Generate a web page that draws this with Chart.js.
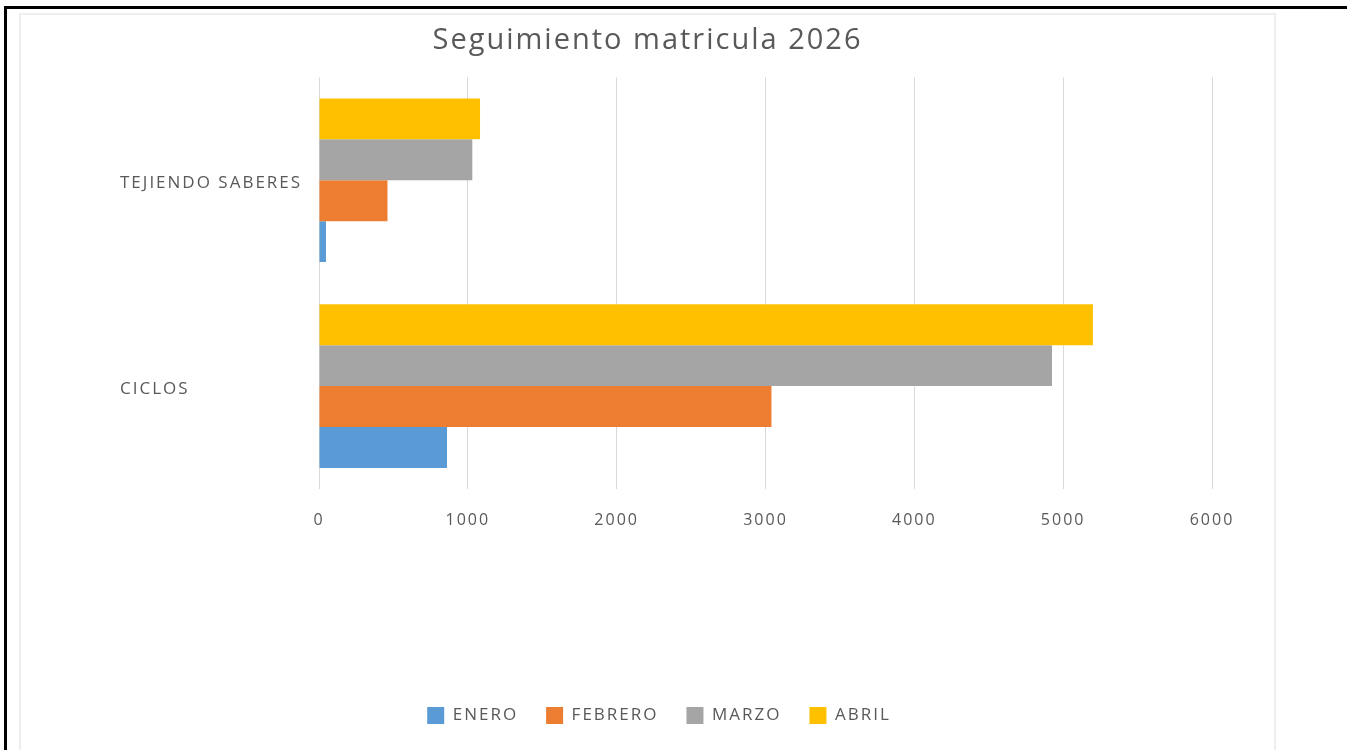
<!DOCTYPE html>
<html>
<head>
<meta charset="utf-8">
<script src="https://cdn.jsdelivr.net/npm/chart.js@4.4.1/dist/chart.umd.min.js"></script>
<style>
  html, body { margin: 0; padding: 0; background: #ffffff; width: 1347px; height: 750px; overflow: hidden; }
  #frame { position: absolute; left: 4px; top: 6px; width: 1343px; height: 760px;
           border-top: 3px solid #000; border-left: 3px solid #000; box-sizing: border-box; }
  #box { position: absolute; left: 19px; top: 13px; width: 1257px; height: 760px;
         border: 2px solid #eeeeee; box-sizing: border-box; background: #fff; }
  #wrap { position: absolute; left: 21px; top: 15px; width: 1253px; height: 735px; }
</style>
</head>
<body>
<div id="frame"></div>
<div id="box"></div>
<div id="wrap"><canvas id="c" width="1253" height="735"></canvas></div>
<script>
// ---- data ----
const categories = ['CICLOS', 'TEJIENDO SABERES'];
const seriesNames = ['ENERO', 'FEBRERO', 'MARZO', 'ABRIL'];
const enero   = [860, 47];
const febrero = [3040, 460];
const marzo   = [4925, 1030];
const abril   = [5200, 1082];
const xTicks  = [0, 1000, 2000, 3000, 4000, 5000, 6000];
const titleText = 'Seguimiento matricula 2026';

const colors = ['#5B9BD5', '#ED7D31', '#A5A5A5', '#FFC000'];
const values = [enero, febrero, marzo, abril];

// datasets listed last-to-first so ENERO sits at the bottom of each group
const datasets = [];
for (let i = seriesNames.length - 1; i >= 0; i--) {
  datasets.push({
    label: seriesNames[i],
    data: values[i],
    backgroundColor: colors[i],
    borderWidth: 0,
    categoryPercentage: 0.795,
    barPercentage: 1.0
  });
}

const FONT = '"Open Sans", sans-serif';
const TXT = '#595959';

function spacing(chart) { chart.ctx.letterSpacing = '2px'; }

const tweaks = {
  id: 'tweaks',
  beforeUpdate: spacing,
  beforeLayout: spacing,
  beforeDraw: spacing,
  afterLayout(chart) {
    spacing(chart);
    chart.scales.y.left = 99;
    const t = chart.titleBlock;
    if (t) { t.left = 0; t.right = chart.width; t.width = chart.width; }
    const l = chart.legend;
    if (l) { l.left = 23; l.right = chart.width; l.width = chart.width - 23; }
  }
};

new Chart(document.getElementById('c'), {
  type: 'bar',
  data: { labels: categories, datasets },
  options: {
    indexAxis: 'y',
    responsive: false,
    animation: false,
    layout: { padding: { left: 0, right: 62, top: 0, bottom: 16 } },
    scales: {
      x: {
        min: 0, max: 6000,
        afterBuildTicks(scale) { scale.ticks = xTicks.map(v => ({ value: v })); },
        afterFit(scale) { scale.height = 190; },
        grid: { color: '#D9D9D9', lineWidth: 1, drawTicks: false },
        border: { display: false },
        ticks: { color: TXT, font: { family: FONT, size: 16 }, padding: 22,
                 callback: v => String(v) }
      },
      y: {
        reverse: true,
        afterFit(scale) { scale.width = 298; },
        grid: { display: false, drawTicks: false },
        border: { display: false },
        ticks: { color: TXT, font: { family: FONT, size: 17 }, crossAlign: 'far', padding: 0,
                 labelOffset: 3 }
      }
    },
    plugins: {
      title: {
        display: true, text: titleText, color: TXT,
        font: { family: FONT, size: 29, weight: 'normal' },
        padding: { top: 8, bottom: 19.5 }
      },
      legend: {
        position: 'bottom',
        reverse: true,
        labels: {
          color: TXT, font: { family: FONT, size: 17 },
          boxWidth: 17, boxHeight: 17, padding: 28
        }
      },
      tooltip: { enabled: false }
    }
  },
  plugins: [tweaks]
});
</script>
</body>
</html>
